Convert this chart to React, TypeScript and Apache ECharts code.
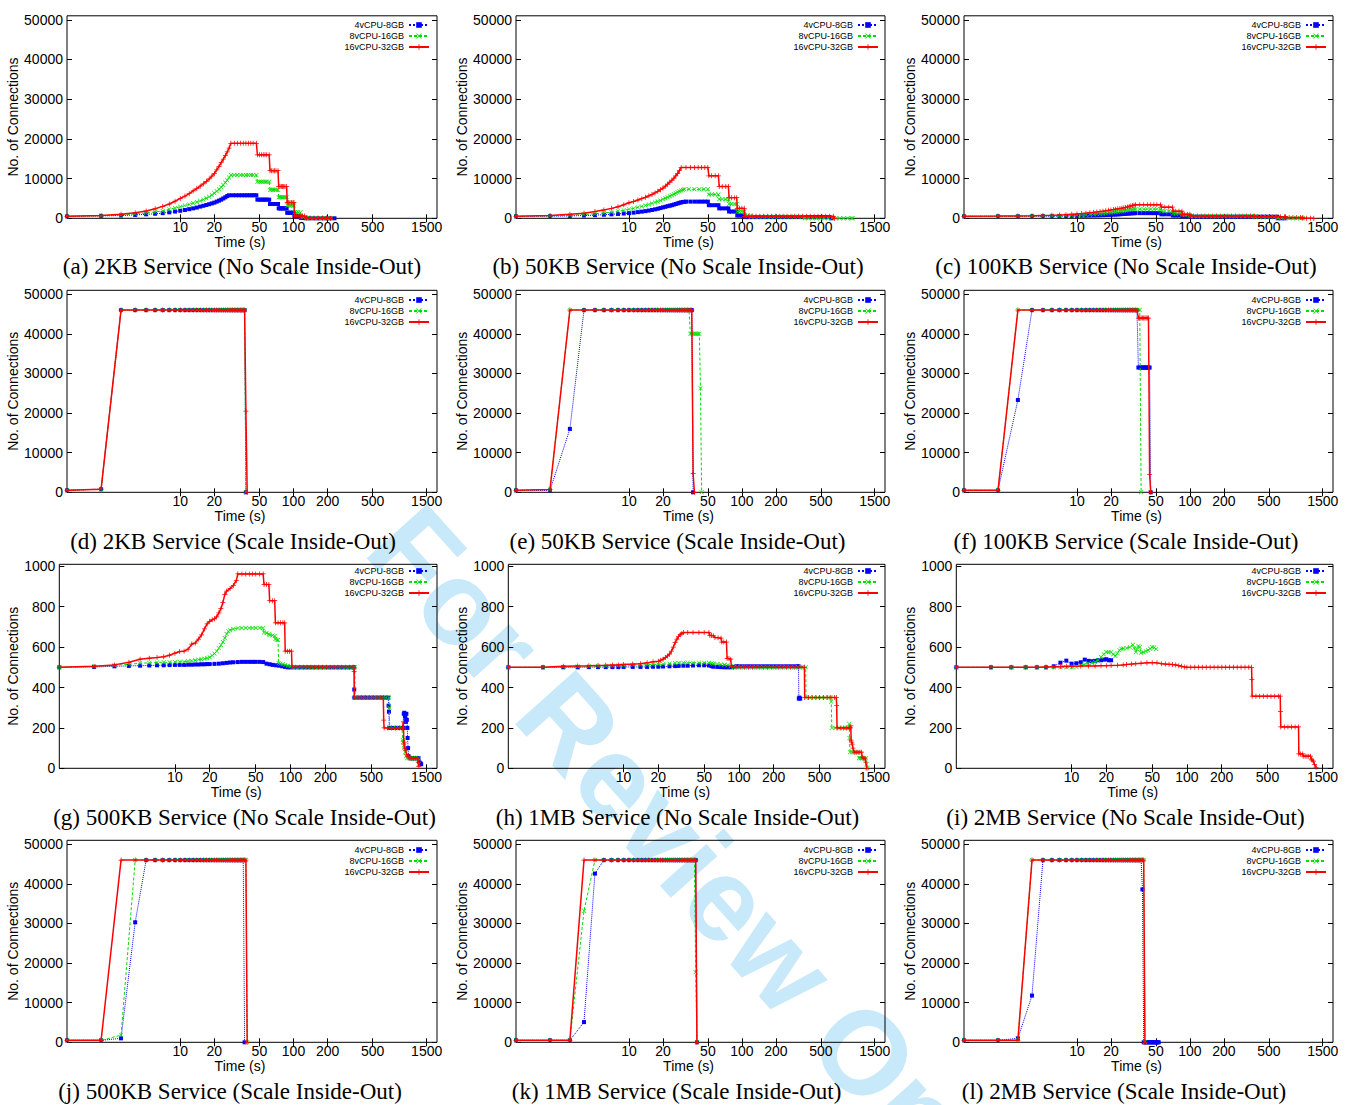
import React, { useEffect, useRef } from "react";
import * as echarts from "echarts";

const SERIES_NAMES = ["4vCPU-8GB", "8vCPU-16GB", "16vCPU-32GB"];
const X_TICKS = [10, 20, 50, 100, 200, 500, 1500];
const Y_TICKS_LARGE = [0, 10000, 20000, 30000, 40000, 50000];
const Y_TICKS_SMALL = [0, 200, 400, 600, 800, 1000];
const CAPTIONS = [
  "(a) 2KB Service (No Scale Inside-Out)",
  "(b) 50KB Service (No Scale Inside-Out)",
  "(c) 100KB Service (No Scale Inside-Out)",
  "(d) 2KB Service (Scale Inside-Out)",
  "(e) 50KB Service (Scale Inside-Out)",
  "(f) 100KB Service (Scale Inside-Out)",
  "(g) 500KB Service (No Scale Inside-Out)",
  "(h) 1MB Service (No Scale Inside-Out)",
  "(i) 2MB Service (No Scale Inside-Out)",
  "(j) 500KB Service (Scale Inside-Out)",
  "(k) 1MB Service (Scale Inside-Out)",
  "(l) 2MB Service (Scale Inside-Out)",
];
const WATERMARK = "For Review Only";

// ---------- (a) 2KB, no scale ----------
const a4 = [[1,500],[2,600],[3,700],[4,850],[5,1000],[6,1150],[7,1300],[8,1500],[9,1700],[10,1900],[11,2100],[12,2300],[13,2500],[14,2700],[15,2950],[16,3150],[17,3350],[18,3550],[19,3750],[20,3950],[21,4200],[22,4450],[23,4700],[24,5000],[25,5300],[26,5600],[27,5800],[29,5800],[31,5800],[33,5800],[35,5800],[37,5800],[39,5800],[41,5800],[43,5800],[45,5800],[47,5800],[48,4700],[50,4700],[52,4700],[54,4700],[56,4700],[58,4700],[61,4700],[62,3600],[64,3600],[66,3600],[68,3600],[70,3600],[73,3600],[74,2500],[76,2500],[78,2500],[80,2500],[82,2500],[84,2500],[87,2500],[88,1400],[90,1400],[93,1400],[96,1400],[99,1400],[101,1400],[102,500],[106,500],[110,500],[115,500],[116,100],[122,50],[130,0],[140,0],[152,0],[165,0],[180,0],[195,0],[212,0],[230,0]];
const a8 = [[1,500],[2,650],[3,850],[4,1100],[5,1350],[6,1600],[7,1850],[8,2300],[9,2600],[10,2900],[11,3200],[12,3500],[13,3800],[14,4100],[15,4400],[16,4700],[17,5050],[18,5400],[19,5850],[20,6300],[21,6800],[22,7300],[23,7850],[24,8400],[25,9000],[26,9600],[27,10250],[28,10900],[30,10900],[32,10900],[34,10900],[36,10900],[38,10900],[40,10900],[42,10900],[44,10900],[47,10900],[48,9200],[50,9200],[52,9200],[54,9200],[56,9200],[58,9200],[61,9200],[62,7200],[64,7200],[66,7200],[68,7200],[70,7200],[73,7200],[74,5300],[76,5300],[78,5300],[80,5300],[82,5300],[84,5300],[87,5300],[88,3200],[90,3200],[93,3200],[96,3200],[99,3200],[101,3200],[102,1500],[106,1500],[110,1500],[115,1500],[116,300],[122,300],[128,300],[130,0],[140,0],[152,0],[165,0],[180,0],[195,0],[212,0]];
const a16 = [[1,500],[2,700],[3,1000],[4,1400],[5,1850],[6,2400],[7,3000],[8,3600],[9,4300],[10,5000],[11,5600],[12,6200],[13,6900],[14,7500],[15,8100],[16,8700],[17,9300],[18,9900],[19,10600],[20,11300],[21,12200],[22,13100],[23,14000],[24,14900],[25,15800],[26,16700],[27,17700],[28,18900],[30,18900],[32,18900],[34,18900],[36,18900],[38,18900],[40,18900],[42,18900],[44,18900],[47,18900],[48,16000],[50,16000],[52,16000],[54,16000],[56,16000],[58,16000],[61,16000],[62,12000],[64,12000],[66,12000],[68,12000],[70,12000],[73,12000],[74,8000],[76,8000],[78,8000],[80,8000],[82,8000],[84,8000],[87,8000],[88,4000],[90,4000],[93,4000],[96,4000],[99,4000],[101,4000],[102,600],[106,600],[110,600],[115,600],[120,600],[125,600],[130,100],[140,100],[152,100],[165,100],[180,50],[195,50],[212,0]];

// ---------- (b) 50KB, no scale ----------
const b4 = [[1,500],[2,550],[3,600],[4,700],[5,800],[6,900],[7,1000],[8,1100],[9,1200],[10,1300],[11,1420],[12,1550],[13,1680],[14,1800],[15,1950],[16,2100],[17,2250],[18,2400],[19,2580],[20,2750],[21,2900],[22,3050],[23,3180],[24,3300],[25,3450],[26,3600],[27,3750],[28,3900],[29,4000],[30,4100],[31,4150],[32,4200],[35,4200],[38,4200],[41,4200],[44,4200],[47,4200],[50,4200],[51,3300],[54,3300],[58,3300],[62,3300],[63,2500],[67,2500],[72,2500],[76,2500],[77,1700],[81,1700],[86,1700],[90,1700],[91,700],[95,700],[100,700],[105,700],[106,300],[114,300],[123,300],[133,300],[144,300],[156,300],[169,300],[183,300],[198,300],[214,300],[232,300],[251,300],[272,300],[294,300],[318,300],[344,300],[372,300],[403,300],[436,300],[472,300],[511,300],[553,300],[598,300],[620,0]];
const b8 = [[1,500],[2,600],[3,750],[4,950],[5,1150],[6,1350],[7,1550],[8,1800],[9,2000],[10,2250],[11,2500],[12,2750],[13,3000],[14,3250],[15,3500],[16,3750],[17,4000],[18,4250],[19,4500],[20,4800],[21,5050],[22,5300],[23,5550],[24,5800],[25,6050],[26,6300],[27,6550],[28,6800],[29,7000],[30,7200],[31,7300],[34,7300],[38,7300],[42,7300],[46,7300],[50,7300],[51,6000],[54,6000],[58,6000],[62,6000],[63,4800],[67,4800],[72,4800],[76,4800],[77,3600],[81,3600],[86,3600],[90,3600],[91,1700],[95,1700],[100,1700],[105,1700],[106,700],[112,700],[120,700],[121,400],[130,400],[141,400],[153,400],[166,400],[180,400],[195,400],[211,400],[229,400],[248,400],[269,400],[291,400],[315,400],[341,400],[360,400],[361,0],[390,0],[422,0],[457,0],[495,0],[536,0],[580,0],[628,0],[680,0],[736,0],[797,0],[863,0],[934,0],[955,0]];
const b16 = [[1,500],[2,700],[3,1000],[4,1300],[5,1700],[6,2100],[7,2500],[8,2900],[9,3400],[10,3900],[11,4250],[12,4600],[13,4950],[14,5300],[15,5650],[16,6000],[17,6400],[18,6800],[19,7200],[20,7600],[21,8100],[22,8600],[23,9100],[24,9600],[25,10100],[26,10700],[27,11300],[28,12000],[29,12800],[32,12800],[35,12800],[38,12800],[41,12800],[44,12800],[47,12800],[50,12800],[51,10700],[54,10700],[58,10700],[62,10700],[63,8000],[67,8000],[72,8000],[76,8000],[77,5200],[81,5200],[86,5200],[90,5200],[91,2500],[95,2500],[100,2500],[105,2500],[106,500],[114,500],[123,500],[133,500],[144,500],[156,500],[169,500],[183,500],[198,500],[214,500],[232,500],[251,500],[272,500],[294,500],[318,500],[344,500],[372,500],[403,500],[436,500],[472,500],[511,500],[553,500],[598,500],[647,500],[660,0]];

// ---------- (c) 100KB, no scale ----------
const c4 = [[1,500],[2,510],[3,520],[4,530],[5,540],[6,550],[7,560],[8,580],[9,600],[10,620],[11,640],[12,660],[13,685],[14,710],[15,735],[16,760],[17,790],[18,820],[19,850],[20,880],[21,915],[22,950],[23,985],[24,1020],[25,1060],[26,1100],[27,1140],[28,1180],[29,1210],[30,1250],[31,1270],[32,1290],[33,1300],[36,1300],[39,1300],[42,1300],[45,1300],[48,1300],[51,1300],[55,1300],[56,1000],[60,1000],[65,1000],[70,1000],[71,700],[75,700],[80,700],[85,700],[86,500],[90,500],[95,500],[100,500],[101,400],[108,400],[117,400],[126,400],[136,400],[147,400],[159,400],[172,400],[186,400],[201,400],[217,400],[234,400],[253,400],[273,400],[295,400],[319,400],[344,400],[372,400],[402,400],[434,400],[469,400],[506,400],[547,400],[591,400],[601,0],[640,0],[690,0]];
const c8 = [[1,500],[2,520],[3,540],[4,570],[5,600],[6,630],[7,660],[8,700],[9,750],[10,800],[11,850],[12,900],[13,950],[14,1000],[15,1070],[16,1150],[17,1220],[18,1300],[19,1370],[20,1450],[21,1520],[22,1600],[23,1680],[24,1750],[25,1830],[26,1900],[27,1980],[28,2050],[29,2130],[30,2200],[31,2250],[32,2280],[33,2300],[36,2300],[39,2300],[42,2300],[45,2300],[48,2300],[51,2300],[55,2300],[56,1800],[60,1800],[65,1800],[70,1800],[71,1200],[75,1200],[80,1200],[85,1200],[86,800],[90,800],[95,800],[100,800],[101,500],[108,500],[117,500],[126,500],[136,500],[147,500],[159,500],[172,500],[186,500],[201,500],[217,500],[234,500],[253,500],[273,500],[295,500],[319,500],[344,500],[372,500],[380,500],[381,300],[411,300],[444,300],[480,300],[518,300],[559,300],[600,300],[601,0],[650,0],[702,0],[758,0],[819,0],[884,0],[955,0],[1000,0]];
const c16 = [[1,500],[2,550],[3,600],[4,650],[5,700],[6,750],[7,800],[8,900],[9,1000],[10,1100],[11,1200],[12,1300],[13,1400],[14,1500],[15,1600],[16,1700],[17,1800],[18,1900],[19,2000],[20,2100],[21,2200],[22,2300],[23,2380],[24,2450],[25,2550],[26,2650],[27,2750],[28,2850],[29,2950],[30,3100],[31,3200],[32,3300],[33,3400],[36,3400],[39,3400],[42,3400],[45,3400],[48,3400],[51,3400],[55,3400],[56,2800],[60,2800],[65,2800],[70,2800],[71,1800],[75,1800],[80,1800],[85,1800],[86,1000],[90,1000],[95,1000],[100,1000],[101,600],[108,600],[117,600],[126,600],[136,600],[147,600],[159,600],[172,600],[186,600],[201,600],[217,600],[234,600],[253,600],[273,600],[295,600],[319,600],[344,600],[370,600],[371,400],[401,400],[433,400],[468,400],[505,400],[545,400],[589,400],[636,400],[687,400],[700,400],[701,200],[757,200],[818,200],[883,200],[954,200],[1000,200],[1001,0],[1080,0],[1167,0],[1250,0]];

// ---------- (d) 2KB, scale ----------
const d4 = [[1,500],[2,800],[3,46000],[4,46000],[5,46000],[6,46000],[7,46000],[8,46000],[9,46000],[10,46000],[11,46000],[12,46000],[13,46000],[14,46000],[15,46000],[16,46000],[17,46000],[18,46000],[19,46000],[20,46000],[21,46000],[22,46000],[23,46000],[24,46000],[25,46000],[26,46000],[27,46000],[28,46000],[29,46000],[30,46000],[31,46000],[32,46000],[33,46000],[34,46000],[35,46000],[36,46000],[37,46000],[38,0]];
const d8 = [[1,500],[2,800],[3,46000],[4,46000],[5,46000],[6,46000],[7,46000],[8,46000],[9,46000],[10,46000],[11,46000],[12,46000],[13,46000],[14,46000],[15,46000],[16,46000],[17,46000],[18,46000],[19,46000],[20,46000],[21,46000],[22,46000],[23,46000],[24,46000],[25,46000],[26,46000],[27,46000],[28,46000],[29,46000],[30,46000],[31,46000],[32,46000],[33,46000],[34,46000],[35,46000],[36,46000],[37,46000],[38,0]];
const d16 = [[1,500],[2,800],[3,46000],[4,46000],[5,46000],[6,46000],[7,46000],[8,46000],[9,46000],[10,46000],[11,46000],[12,46000],[13,46000],[14,46000],[15,46000],[16,46000],[17,46000],[18,46000],[19,46000],[20,46000],[21,46000],[22,46000],[23,46000],[24,46000],[25,46000],[26,46000],[27,46000],[28,46000],[29,46000],[30,46000],[31,46000],[32,46000],[33,46000],[34,46000],[35,46000],[36,46000],[37,46000],[38,20500],[39,0]];

// ---------- (e) 50KB, scale ----------
const e4 = [[1,500],[2,500],[3,16000],[4,46000],[5,46000],[6,46000],[7,46000],[8,46000],[9,46000],[10,46000],[11,46000],[12,46000],[13,46000],[14,46000],[15,46000],[16,46000],[17,46000],[18,46000],[19,46000],[20,46000],[21,46000],[22,46000],[23,46000],[24,46000],[25,46000],[26,46000],[27,46000],[28,46000],[29,46000],[30,46000],[31,46000],[32,46000],[33,46000],[34,46000],[35,46000],[36,46000],[37,0]];
const e8 = [[1,500],[2,700],[3,46000],[4,46000],[5,46000],[6,46000],[7,46000],[8,46000],[9,46000],[10,46000],[11,46000],[12,46000],[13,46000],[14,46000],[15,46000],[16,46000],[17,46000],[18,46000],[19,46000],[20,46000],[21,46000],[22,46000],[23,46000],[24,46000],[25,46000],[26,46000],[27,46000],[28,46000],[29,46000],[30,46000],[31,46000],[32,46000],[33,46000],[34,46000],[35,40000],[36,40000],[37,40000],[38,40000],[39,40000],[40,40000],[41,40000],[42,40000],[43,26300],[44,0]];
const e16 = [[1,500],[2,700],[3,46000],[4,46000],[5,46000],[6,46000],[7,46000],[8,46000],[9,46000],[10,46000],[11,46000],[12,46000],[13,46000],[14,46000],[15,46000],[16,46000],[17,46000],[18,46000],[19,46000],[20,46000],[21,46000],[22,46000],[23,46000],[24,46000],[25,46000],[26,46000],[27,46000],[28,46000],[29,46000],[30,46000],[31,46000],[32,46000],[33,46000],[34,46000],[35,46000],[36,46000],[37,4700],[38,0]];

// ---------- (f) 100KB, scale ----------
const f4 = [[1,500],[2,500],[3,23300],[4,46000],[5,46000],[6,46000],[7,46000],[8,46000],[9,46000],[10,46000],[11,46000],[12,46000],[13,46000],[14,46000],[15,46000],[16,46000],[17,46000],[18,46000],[19,46000],[20,46000],[21,46000],[22,46000],[23,46000],[24,46000],[25,46000],[26,46000],[27,46000],[28,46000],[29,46000],[30,46000],[31,46000],[32,46000],[33,46000],[34,46000],[35,31500],[36,31500],[37,31500],[38,31500],[39,31500],[40,31500],[41,31500],[42,31500],[43,31500],[44,31500],[45,0]];
const f8 = [[1,500],[2,500],[3,46000],[4,46000],[5,46000],[6,46000],[7,46000],[8,46000],[9,46000],[10,46000],[11,46000],[12,46000],[13,46000],[14,46000],[15,46000],[16,46000],[17,46000],[18,46000],[19,46000],[20,46000],[21,46000],[22,46000],[23,46000],[24,46000],[25,46000],[26,46000],[27,46000],[28,46000],[29,46000],[30,46000],[31,46000],[32,46000],[33,46000],[34,46000],[35,46000],[36,46000],[37,0]];
const f16 = [[1,500],[2,500],[3,46000],[4,46000],[5,46000],[6,46000],[7,46000],[8,46000],[9,46000],[10,46000],[11,46000],[12,46000],[13,46000],[14,46000],[15,46000],[16,46000],[17,46000],[18,46000],[19,46000],[20,46000],[21,46000],[22,46000],[23,46000],[24,46000],[25,46000],[26,46000],[27,46000],[28,46000],[29,46000],[30,46000],[31,46000],[32,46000],[33,46000],[34,46000],[35,44000],[36,44000],[37,44000],[38,44000],[39,44000],[40,44000],[41,44000],[42,44000],[43,44000],[44,4500],[45,0]];

// ---------- (g) 500KB, no scale ----------
const g4 = [[1,500],[2,502],[3,505],[4,507],[5,508],[6,509],[7,510],[8,510],[9,511],[10,512],[11,512],[12,512],[13,513],[14,513],[15,514],[16,514],[17,515],[18,515],[19,516],[20,516],[22,517],[24,518],[26,520],[28,522],[30,524],[32,525],[35,526],[38,527],[41,527],[44,527],[47,527],[50,527],[54,527],[58,526],[62,518],[66,515],[70,512],[75,510],[80,508],[85,505],[90,502],[95,500],[100,500],[108,500],[117,500],[126,500],[136,500],[147,500],[159,500],[172,500],[186,500],[201,500],[217,500],[234,500],[253,500],[273,500],[295,500],[319,500],[344,500],[355,500],[356,390],[357,350],[385,350],[415,350],[448,350],[484,350],[522,350],[563,350],[608,350],[656,350],[700,350],[705,310],[710,280],[715,200],[760,200],[810,200],[860,200],[910,200],[950,200],[955,270],[965,275],[975,260],[985,250],[995,230],[1005,270],[1015,240],[1025,200],[1030,150],[1040,100],[1050,60],[1080,50],[1120,50],[1160,50],[1200,50],[1240,50],[1280,50],[1300,30],[1330,25],[1350,20]];
const g8 = [[1,500],[2,505],[3,510],[4,515],[5,520],[6,522],[7,524],[8,525],[9,525],[10,526],[11,527],[12,528],[13,530],[14,532],[15,535],[16,538],[17,540],[18,542],[19,545],[20,550],[21,558],[22,568],[23,580],[24,595],[25,610],[26,625],[27,645],[28,665],[29,678],[30,684],[32,690],[35,694],[38,695],[41,695],[44,695],[47,695],[50,695],[54,695],[58,695],[59,672],[62,670],[65,665],[66,660],[70,658],[73,655],[74,640],[76,636],[78,635],[79,520],[82,518],[86,515],[90,512],[95,508],[100,505],[104,500],[112,500],[121,500],[131,500],[141,500],[152,500],[164,500],[177,500],[191,500],[206,500],[222,500],[240,500],[259,500],[280,500],[302,500],[326,500],[352,500],[360,500],[362,350],[390,350],[421,350],[454,350],[490,350],[529,350],[571,350],[616,350],[665,350],[712,350],[716,300],[720,200],[770,200],[820,200],[870,200],[920,200],[935,140],[945,130],[960,100],[980,80],[1000,60],[1020,50],[1060,50],[1100,50],[1140,50],[1180,50],[1220,50],[1270,50],[1280,20]];
const g16 = [[1,500],[2,505],[3,512],[4,525],[5,540],[6,545],[7,548],[8,552],[9,560],[10,570],[11,578],[12,580],[13,590],[14,615],[15,620],[16,640],[17,660],[18,690],[19,715],[20,728],[21,735],[22,740],[23,750],[24,770],[25,790],[26,820],[27,860],[28,877],[30,890],[32,905],[34,930],[35,962],[38,962],[41,962],[44,962],[47,962],[50,962],[54,962],[58,962],[59,910],[62,910],[65,910],[66,830],[70,830],[73,830],[74,720],[78,720],[82,720],[86,720],[89,720],[90,580],[94,580],[98,580],[102,580],[103,500],[111,500],[120,500],[129,500],[139,500],[150,500],[162,500],[175,500],[189,500],[204,500],[220,500],[238,500],[257,500],[277,500],[299,500],[323,500],[348,500],[354,500],[355,480],[356,350],[384,350],[414,350],[447,350],[482,350],[520,350],[561,350],[605,350],[635,350],[640,238],[645,200],[695,200],[750,200],[810,200],[870,200],[930,200],[945,230],[950,200],[955,120],[965,130],[975,100],[990,90],[1010,70],[1040,60],[1080,50],[1120,50],[1160,50],[1200,50],[1250,50],[1275,30],[1290,10]];

// ---------- (h) 1MB, no scale ----------
const h4 = [[1,500],[2,500],[3,500],[4,500],[5,501],[6,501],[7,501],[8,501],[9,501],[10,502],[12,502],[14,502],[16,502],[18,503],[20,503],[22,504],[25,505],[28,506],[30,507],[33,508],[36,508],[40,509],[45,510],[50,510],[55,509],[58,506],[60,503],[65,502],[70,501],[75,500],[80,500],[85,500],[90,502],[95,505],[100,505],[108,505],[117,505],[126,505],[136,505],[147,505],[159,505],[172,505],[186,505],[201,505],[217,505],[234,505],[253,505],[273,505],[295,505],[319,505],[329,505],[331,345],[335,350],[340,345]];
const h8 = [[1,500],[2,500],[3,502],[4,504],[5,505],[6,506],[7,507],[8,508],[9,509],[10,510],[12,511],[14,512],[16,513],[18,514],[20,515],[22,516],[25,518],[28,520],[30,521],[33,522],[36,523],[40,523],[45,523],[50,523],[55,522],[58,520],[60,518],[65,516],[70,514],[75,513],[80,512],[85,505],[90,500],[96,500],[104,500],[112,500],[121,500],[131,500],[141,500],[152,500],[164,500],[177,500],[191,500],[206,500],[222,500],[240,500],[259,500],[280,500],[302,500],[326,500],[352,500],[380,500],[382,350],[412,350],[445,350],[480,350],[518,350],[559,350],[603,350],[627,350],[632,330],[640,200],[690,200],[744,200],[802,200],[865,200],[900,200],[905,220],[910,150],[920,80],[960,80],[1000,80],[1040,80],[1080,80],[1100,50],[1140,50],[1180,50],[1220,50],[1260,50],[1280,20],[1300,0]];
const h16 = [[1,500],[2,500],[3,505],[4,507],[5,508],[6,509],[7,510],[8,511],[9,512],[10,514],[12,516],[14,518],[16,522],[18,527],[20,530],[21,535],[22,540],[23,548],[24,556],[25,565],[26,580],[27,600],[28,622],[29,640],[30,652],[31,662],[32,668],[33,672],[36,672],[40,672],[45,672],[50,672],[55,672],[56,658],[58,658],[60,656],[62,648],[66,646],[70,645],[71,625],[74,625],[78,625],[79,543],[82,543],[85,540],[86,505],[90,500],[96,500],[104,500],[112,500],[121,500],[131,500],[141,500],[152,500],[164,500],[177,500],[191,500],[206,500],[222,500],[240,500],[259,500],[280,500],[302,500],[326,500],[352,500],[370,500],[372,350],[401,350],[432,350],[466,350],[502,350],[541,350],[583,350],[628,350],[677,350],[700,350],[705,310],[710,200],[756,200],[805,200],[857,200],[912,200],[930,200],[935,210],[940,140],[950,130],[960,120],[975,100],[1000,80],[1040,80],[1080,80],[1120,80],[1160,80],[1170,55],[1200,50],[1240,50],[1260,30],[1290,0]];

// ---------- (i) 2MB, no scale ----------
const i4 = [[1,500],[2,500],[3,500],[4,500],[5,500],[6,500],[7,505],[8,523],[9,533],[10,518],[11,520],[12,525],[13,538],[14,532],[15,530],[16,532],[17,535],[18,535],[19,538],[20,540],[21,535],[22,535]];
const i8 = [[1,500],[2,500],[3,500],[4,500],[5,500],[6,500],[7,500],[8,500],[9,500],[10,500],[11,502],[12,510],[13,515],[14,520],[15,523],[16,526],[17,535],[18,551],[19,565],[20,576],[21,575],[22,575],[23,565],[24,556],[25,570],[26,585],[27,592],[28,593],[30,595],[32,600],[34,612],[35,595],[36,575],[37,590],[38,605],[39,600],[40,572],[42,575],[44,580],[46,585],[48,592],[50,600],[52,598],[54,590]];
const i16 = [[1,500],[2,500],[3,500],[4,500],[5,500],[6,502],[7,503],[8,504],[9,505],[10,505],[12,506],[14,507],[16,507],[18,508],[20,508],[22,509],[25,510],[28,512],[30,514],[33,516],[36,518],[40,520],[45,522],[50,523],[55,522],[60,518],[65,516],[70,515],[75,514],[80,512],[85,508],[90,505],[95,502],[100,500],[108,500],[117,500],[126,500],[136,500],[147,500],[159,500],[172,500],[186,500],[201,500],[217,500],[234,500],[253,500],[273,500],[295,500],[319,500],[344,500],[364,500],[366,440],[368,357],[397,357],[428,357],[461,357],[497,357],[536,357],[578,357],[623,357],[645,357],[648,280],[652,205],[700,205],[752,205],[808,205],[868,205],[930,205],[935,71],[970,71],[1010,71],[1020,60],[1060,60],[1100,60],[1140,60],[1180,60],[1200,45],[1220,40],[1250,35],[1280,20],[1320,5]];

// ---------- (j) 500KB, scale ----------
const j4 = [[1,500],[2,500],[3,1000],[4,30300],[5,46000],[6,46000],[7,46000],[8,46000],[9,46000],[10,46000],[11,46000],[12,46000],[13,46000],[14,46000],[15,46000],[16,46000],[17,46000],[18,46000],[19,46000],[20,46000],[21,46000],[22,46000],[23,46000],[24,46000],[25,46000],[26,46000],[27,46000],[28,46000],[29,46000],[30,46000],[31,46000],[32,46000],[33,46000],[34,46000],[35,46000],[36,46000],[37,0]];
const j8 = [[1,500],[2,500],[3,1800],[4,46000],[5,46000],[6,46000],[7,46000],[8,46000],[9,46000],[10,46000],[11,46000],[12,46000],[13,46000],[14,46000],[15,46000],[16,46000],[17,46000],[18,46000],[19,46000],[20,46000],[21,46000],[22,46000],[23,46000],[24,46000],[25,46000],[26,46000],[27,46000],[28,46000],[29,46000],[30,46000],[31,46000],[32,46000],[33,46000],[34,46000],[35,46000],[36,46000],[37,46000],[38,46000],[39,0]];
const j16 = [[1,500],[2,500],[3,46000],[4,46000],[5,46000],[6,46000],[7,46000],[8,46000],[9,46000],[10,46000],[11,46000],[12,46000],[13,46000],[14,46000],[15,46000],[16,46000],[17,46000],[18,46000],[19,46000],[20,46000],[21,46000],[22,46000],[23,46000],[24,46000],[25,46000],[26,46000],[27,46000],[28,46000],[29,46000],[30,46000],[31,46000],[32,46000],[33,46000],[34,46000],[35,46000],[36,46000],[37,46000],[38,46000],[39,0]];

// ---------- (k) 1MB, scale ----------
const k4 = [[1,500],[2,500],[3,500],[4,5100],[5,42600],[6,46000],[7,46000],[8,46000],[9,46000],[10,46000],[11,46000],[12,46000],[13,46000],[14,46000],[15,46000],[16,46000],[17,46000],[18,46000],[19,46000],[20,46000],[21,46000],[22,46000],[23,46000],[24,46000],[25,46000],[26,46000],[27,46000],[28,46000],[29,46000],[30,46000],[31,46000],[32,46000],[33,46000],[34,46000],[35,46000],[36,46000],[37,46000],[38,46000],[39,46000],[40,0]];
const k8 = [[1,500],[2,500],[3,500],[4,33200],[5,46000],[6,46000],[7,46000],[8,46000],[9,46000],[10,46000],[11,46000],[12,46000],[13,46000],[14,46000],[15,46000],[16,46000],[17,46000],[18,46000],[19,46000],[20,46000],[21,46000],[22,46000],[23,46000],[24,46000],[25,46000],[26,46000],[27,46000],[28,46000],[29,46000],[30,46000],[31,46000],[32,46000],[33,46000],[34,46000],[35,46000],[36,46000],[37,46000],[38,46000],[39,17700],[40,0]];
const k16 = [[1,500],[2,500],[3,500],[4,46000],[5,46000],[6,46000],[7,46000],[8,46000],[9,46000],[10,46000],[11,46000],[12,46000],[13,46000],[14,46000],[15,46000],[16,46000],[17,46000],[18,46000],[19,46000],[20,46000],[21,46000],[22,46000],[23,46000],[24,46000],[25,46000],[26,46000],[27,46000],[28,46000],[29,46000],[30,46000],[31,46000],[32,46000],[33,46000],[34,46000],[35,46000],[36,46000],[37,46000],[38,46000],[39,46000],[40,0]];

// ---------- (l) 2MB, scale ----------
const l4 = [[1,500],[2,500],[3,1000],[4,11800],[5,46000],[6,46000],[7,46000],[8,46000],[9,46000],[10,46000],[11,46000],[12,46000],[13,46000],[14,46000],[15,46000],[16,46000],[17,46000],[18,46000],[19,46000],[20,46000],[21,46000],[22,46000],[23,46000],[24,46000],[25,46000],[26,46000],[27,46000],[28,46000],[29,46000],[30,46000],[31,46000],[32,46000],[33,46000],[34,46000],[35,46000],[36,46000],[37,46000],[38,38600],[39,0],[40,0],[41,0],[42,0],[43,0],[44,0],[45,0],[46,0],[47,0],[48,0],[49,0],[50,0],[51,0],[52,0],[53,0]];
const l8 = [[1,500],[2,500],[3,500],[4,46000],[5,46000],[6,46000],[7,46000],[8,46000],[9,46000],[10,46000],[11,46000],[12,46000],[13,46000],[14,46000],[15,46000],[16,46000],[17,46000],[18,46000],[19,46000],[20,46000],[21,46000],[22,46000],[23,46000],[24,46000],[25,46000],[26,46000],[27,46000],[28,46000],[29,46000],[30,46000],[31,46000],[32,46000],[33,46000],[34,46000],[35,46000],[36,46000],[37,46000],[38,46000],[39,46000],[40,0]];
const l16 = [[1,500],[2,500],[3,500],[4,46000],[5,46000],[6,46000],[7,46000],[8,46000],[9,46000],[10,46000],[11,46000],[12,46000],[13,46000],[14,46000],[15,46000],[16,46000],[17,46000],[18,46000],[19,46000],[20,46000],[21,46000],[22,46000],[23,46000],[24,46000],[25,46000],[26,46000],[27,46000],[28,46000],[29,46000],[30,46000],[31,46000],[32,46000],[33,46000],[34,46000],[35,46000],[36,46000],[37,46000],[38,46000],[39,46000],[40,0]];

const PANEL_DATA = [
  [a4, a8, a16], [b4, b8, b16], [c4, c8, c16],
  [d4, d8, d16], [e4, e8, e16], [f4, f8, f16],
  [g4, g8, g16], [h4, h8, h16], [i4, i8, i16],
  [j4, j8, j16], [k4, k8, k16], [l4, l8, l16],
];

const SANS = "'Liberation Sans', Arial, Helvetica, sans-serif";
const SERIF = "'Liberation Serif', 'Times New Roman', serif";
const X_PATH = "path://M0,1L1,0L5,4L9,0L10,1L6,5L10,9L9,10L5,6L1,10L0,9L4,5Z";
const PLUS_PATH = "path://M4.25,0H5.75V4.25H10V5.75H5.75V10H4.25V5.75H0V4.25H4.25Z";

const SERIES_STYLE = [
  { color: "#0000ff", type: "dotted", width: 1, symbol: "rect", size: 4 },
  { color: "#00dd00", type: [3, 2], width: 1, symbol: X_PATH, size: 4.5 },
  { color: "#ff0000", type: "solid", width: 1.5, symbol: PLUS_PATH, size: 5 },
];

// layout (pixels)
const COL_LEFT = [67, 516, 964];
const COL_LEFT_SMALL = [59.3, 508.3, 956.3];
const COL_RIGHT = [437, 885, 1333];
const ROW_BOTTOM = [218.3, 492.3, 768.3, 1042.3];
const ROW_TOP = [15.8, 290.3, 564.3, 840.3];
const ROW_YMAX = [51000, 51000, 1010, 51000];
const CAPTION_X = [242, 678, 1126, 233, 677.5, 1126, 244.5, 677.5, 1125.5, 230, 676.5, 1124];
const CAPTION_Y = [266.5, 541.5, 817, 1091];
const LEGEND_RIGHT = [917, 468, 20];
const LEGEND_TOP = [19.5, 294.5, 565.5, 844.5];
const X_MAX = 1850;

export default function App() {
  const ref = useRef<HTMLDivElement>(null);
  useEffect(() => {
    if (!ref.current) return;
    const chart = echarts.init(ref.current, undefined, { renderer: "svg" });
    const grid: any[] = [];
    const xAxis: any[] = [];
    const yAxis: any[] = [];
    const series: any[] = [];
    const legend: any[] = [];
    const graphic: any[] = [];
    const tickStyle = { color: "#000", width: 1 };
    const labelStyle = { color: "#000", fontSize: 14, fontFamily: SANS };

    PANEL_DATA.forEach((panel, i) => {
      const row = Math.floor(i / 3);
      const col = i % 3;
      const small = row === 2;
      const left = small ? COL_LEFT_SMALL[col] : COL_LEFT[col];
      const right = COL_RIGHT[col];
      const top = ROW_TOP[row];
      const bottom = ROW_BOTTOM[row];
      grid.push({
        left, top, width: right - left, height: bottom - top,
        show: true, borderColor: "#000", borderWidth: 1, backgroundColor: "transparent",
      });
      xAxis.push({
        gridIndex: i, type: "log", logBase: 10, min: 1, max: X_MAX, position: "bottom",
        axisLine: { show: false }, splitLine: { show: false },
        axisTick: { show: true, inside: true, length: 4, customValues: X_TICKS, lineStyle: tickStyle },
        axisLabel: { ...labelStyle, margin: 2, customValues: X_TICKS, formatter: (v: number) => String(v) },
        name: "Time (s)", nameLocation: "middle", nameGap: 17,
        nameTextStyle: { ...labelStyle, padding: [0, 24, 0, 0] },
      });
      xAxis.push({
        gridIndex: i, type: "log", logBase: 10, min: 1, max: X_MAX, position: "top",
        axisLine: { show: false }, splitLine: { show: false },
        axisTick: { show: true, inside: true, length: 4, customValues: X_TICKS, lineStyle: tickStyle },
        axisLabel: { show: false },
      });
      const yTicks = small ? Y_TICKS_SMALL : Y_TICKS_LARGE;
      yAxis.push({
        gridIndex: i, type: "value", min: 0, max: ROW_YMAX[row], position: "left",
        axisLine: { show: false }, splitLine: { show: false },
        axisTick: { show: true, inside: true, length: 5, customValues: yTicks, lineStyle: tickStyle },
        axisLabel: { ...labelStyle, margin: 4, customValues: yTicks, formatter: (v: number) => String(v) },
        name: "No. of Connections", nameLocation: "middle", nameGap: small ? 36 : 43.5,
        nameTextStyle: { ...labelStyle },
      });
      yAxis.push({
        gridIndex: i, type: "value", min: 0, max: ROW_YMAX[row], position: "right",
        axisLine: { show: false }, splitLine: { show: false },
        axisTick: { show: true, inside: true, length: 5, customValues: yTicks, lineStyle: tickStyle },
        axisLabel: { show: false },
      });
      panel.forEach((data, k) => {
        const st = SERIES_STYLE[k];
        series.push({
          type: "line", name: SERIES_NAMES[k],
          xAxisIndex: i * 2, yAxisIndex: i * 2,
          data, symbol: st.symbol, symbolSize: st.size, showSymbol: true, showAllSymbol: true,
          lineStyle: { color: st.color, width: st.width, type: st.type },
          itemStyle: { color: st.color, borderWidth: 0 },
          z: 2 + k, silent: true, clip: true,
        });
      });
      legend.push({
        orient: "vertical", align: "right", right: LEGEND_RIGHT[col], top: LEGEND_TOP[row],
        itemWidth: 20, itemHeight: 7, itemGap: 0, padding: 0, selectedMode: false,
        textStyle: { color: "#000", fontSize: 9, fontFamily: SANS, lineHeight: 11 },
        data: SERIES_NAMES,
      });
      graphic.push({
        type: "text", x: CAPTION_X[i], y: CAPTION_Y[row], silent: true,
        style: { text: CAPTIONS[i], fontSize: 23, fontFamily: SERIF, fill: "#000", align: "center", verticalAlign: "middle" },
      });
    });

    graphic.push({
      type: "text", x: 392, y: 525, rotation: -0.84, silent: true, z: -10,
      style: { text: WATERMARK, fontSize: 118, fontWeight: "bold", fontFamily: SANS, fill: "#c8e9f9", align: "left", verticalAlign: "middle" },
    });

    chart.setOption({
      animation: false,
      backgroundColor: "#fff",
      grid, xAxis, yAxis, series, legend, graphic,
    });
    return () => chart.dispose();
  }, []);
  return <div ref={ref} style={{ position: "absolute", left: 0, top: 0, width: 1347, height: 1105 }} />;
}
